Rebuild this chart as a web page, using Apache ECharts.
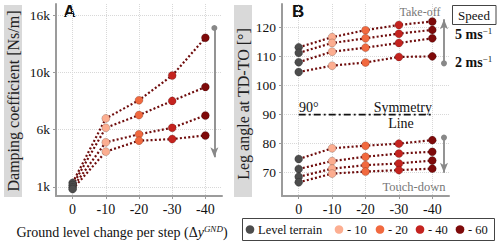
<!DOCTYPE html>
<html><head><meta charset="utf-8">
<script src="https://cdn.jsdelivr.net/npm/echarts@6/dist/echarts.min.js"></script>
<style>html,body{margin:0;padding:0;background:#fff}#c{width:501px;height:244px}</style>
</head><body><div id="c"></div>
<script>
// ---- data ----
const xValues = [0, -10, -20, -30, -40];
const xTickLabels = ['0', '-10', '-20', '-30', '-40'];

// Panel A: damping coefficient [Ns/m], one array per speed
const dampSpeed5 = [1350, 6990, 8580, 10740, 14050];
const dampSpeed4 = [1150, 6170, 7280, 8520, 9740];
const dampSpeed3 = [950, 4900, 5600, 6170, 7250];
const dampSpeed2 = [800, 4080, 5040, 5180, 5500];

// Panel B: leg angle [deg] at take-off
const takeOff5 = [113.1, 116.6, 119.0, 120.8, 122.0];
const takeOff4 = [111.2, 114.6, 116.2, 117.8, 119.1];
const takeOff3 = [108.0, 111.6, 113.0, 114.6, 116.2];
const takeOff2 = [104.6, 106.8, 107.9, 109.8, 110.0];
// Panel B: leg angle [deg] at touch-down
const touchDown5 = [74.7, 78.4, 79.3, 80.0, 81.2];
const touchDown4 = [71.3, 74.0, 75.5, 76.6, 77.2];
const touchDown3 = [68.6, 71.4, 72.6, 73.2, 74.2];
const touchDown2 = [66.7, 69.7, 70.4, 70.9, 71.4];

const yTicksA = [1000, 6000, 11000, 16000];
const yTickLabelsA = ['1k', '6k', '10k', '16k'];
const yTicksB = [70, 80, 90, 100, 110, 120];
const symmetryAngle = 90;
const legendNames = ['Level terrain', '- 10', '- 20', '- 40', '- 60'];

// annotation arrows (data coordinates)
const arrowA = { x: -42.7, from: 14900, to: 3600 };
const arrowTO = { x: -43.5, from: 107.6, to: 122.8 };
const arrowTD = { x: -43.5, from: 82.1, to: 70 };

// ---- styles ----
const pointColors = ['#4d4d4d', '#fcae91', '#f1693f', '#c4231f', '#7e0a0a'];
const LINE = '#6f0c0c';
const SERIF = '"Liberation Serif", "DejaVu Serif", serif';
const AXIS = '#9b9b9b';
const GRIDC = '#d8d8d8';

function pointSeries(values, gi, extra) {
  const s = {
    type: 'line', xAxisIndex: gi, yAxisIndex: gi, silent: true, animation: false,
    symbol: 'circle', symbolSize: 8, z: 3,
    lineStyle: { color: LINE, width: 2.2, type: [2, 2.2] },
    data: values.map((v, i) => ({
      value: [xValues[i], v],
      itemStyle: { color: pointColors[i], borderColor: 'rgba(0,0,0,0.3)', borderWidth: 0.6 }
    }))
  };
  return Object.assign(s, extra || {});
}
function arrowMark(a) {
  return [{ coord: [a.x, a.from] }, { coord: [a.x, a.to] }];
}
const markLineBase = {
  silent: true, animation: false, symbol: ['circle', 'arrow'], symbolSize: [6, 10],
  lineStyle: { color: '#888', width: 1.8, type: 'solid' }, label: { show: false }
};

function xAxisFor(gi) {
  return {
    type: 'value', gridIndex: gi, min: -45, max: 5, inverse: true,
    axisLine: { show: true, onZero: false, lineStyle: { color: AXIS, width: 2 } },
    axisTick: { show: true, length: 3, customValues: xValues, lineStyle: { color: AXIS } },
    axisLabel: { customValues: xValues, formatter: v => xTickLabels[xValues.indexOf(v)],
      margin: 6, fontFamily: SERIF, fontSize: 14, color: '#111' },
    splitLine: { show: true, lineStyle: { color: GRIDC, type: 'dotted', width: 1 } }
  };
}

const series = [
  pointSeries(dampSpeed5, 0, { markLine: Object.assign({ data: [arrowMark(arrowA)] }, markLineBase) }),
  pointSeries(dampSpeed4, 0),
  pointSeries(dampSpeed3, 0),
  pointSeries(dampSpeed2, 0),
  pointSeries(takeOff5, 1, { markLine: Object.assign({ data: [arrowMark(arrowTO), arrowMark(arrowTD)] }, markLineBase) }),
  pointSeries(takeOff4, 1), pointSeries(takeOff3, 1), pointSeries(takeOff2, 1),
  pointSeries(touchDown5, 1), pointSeries(touchDown4, 1), pointSeries(touchDown3, 1), pointSeries(touchDown2, 1),
  {
    type: 'line', xAxisIndex: 1, yAxisIndex: 1, silent: true, animation: false, symbol: 'none', z: 2,
    data: [[xValues[0], symmetryAngle], [xValues[xValues.length - 1], symmetryAngle]],
    lineStyle: { color: '#111', width: 1.8, type: [7, 3, 2, 3] }
  }
];

const txt = (x, y, text, o) => ({
  type: 'text', x: x, y: y, silent: true, rotation: (o && o.rotation) || 0,
  style: Object.assign({
    text: text, fill: '#111', fontFamily: SERIF, fontSize: 14,
    align: 'left', verticalAlign: 'middle', textAlign: 'left', textVerticalAlign: 'middle'
  }, (o && o.style) || {})
});
const center = { align: 'center', textAlign: 'center' };
const right = { align: 'right', textAlign: 'right' };

// legend drawn as graphic: box, then dot + label per entry
const legendDotX = [250, 339, 380, 420, 460];
const legendGraphic = [
  { type: 'rect', shape: { x: 242.5, y: 218.5, width: 252, height: 22 },
    style: { fill: '#fff', stroke: '#444', lineWidth: 1 }, silent: true }
];
legendNames.forEach((n, i) => {
  legendGraphic.push({ type: 'circle', shape: { cx: legendDotX[i], cy: 229.5, r: 4.3 },
    style: { fill: pointColors[i] }, silent: true });
  legendGraphic.push(txt(legendDotX[i] + 8, 229.5, n, { style: { fontSize: 12.5 } }));
});

const graphic = [
  { type: 'rect', shape: { x: 4, y: 5, width: 18, height: 192 }, style: { fill: '#d9d9d9' }, z: -10, silent: true },
  { type: 'rect', shape: { x: 234, y: 5, width: 18, height: 192 }, style: { fill: '#d9d9d9' }, z: -10, silent: true },
  txt(13.5, 101, 'Damping coefficient [Ns/m]', { rotation: Math.PI / 2, style: Object.assign({ fontSize: 16, fill: '#222' }, center) }),
  txt(243.5, 104, 'Leg angle at TD-TO [°]', { rotation: Math.PI / 2, style: Object.assign({ fontSize: 16, fill: '#222' }, center) }),
  txt(63.5, 11, 'A', { style: { fontFamily: '"Liberation Sans", Arial, sans-serif', fontWeight: 'bold', fontSize: 17 } }),
  txt(292, 11, 'B', { style: { fontFamily: '"Liberation Sans", Arial, sans-serif', fontWeight: 'bold', fontSize: 17 } }),
  txt(420, 12, 'Take-off', { style: Object.assign({ fill: '#777', fontSize: 12 }, center) }),
  txt(414, 187, 'Touch-down', { style: Object.assign({ fill: '#777', fontSize: 12.5 }, center) }),
  txt(299, 107, '90°'),
  txt(432, 107, 'Symmetry', { style: right }),
  txt(401, 123, 'Line', { style: center }),
  { type: 'rect', shape: { x: 452.5, y: 5.5, width: 43.5, height: 19 }, style: { fill: '#fff', stroke: '#444', lineWidth: 1 }, silent: true },
  txt(474, 15, 'Speed', { style: Object.assign({ fontSize: 13 }, center) }),
  txt(455, 34, '{b|5 ms}{s|−1}', { style: { rich: {
    b: { fontFamily: SERIF, fontSize: 14, fontWeight: 'bold', fill: '#111', lineHeight: 16 },
    s: { fontFamily: SERIF, fontSize: 9, fill: '#111', lineHeight: 16, verticalAlign: 'top', padding: [0, 0, 6, 0] } } } }),
  txt(455, 62, '{b|2 ms}{s|−1}', { style: { rich: {
    b: { fontFamily: SERIF, fontSize: 14, fontWeight: 'bold', fill: '#111', lineHeight: 16 },
    s: { fontFamily: SERIF, fontSize: 9, fill: '#111', lineHeight: 16, verticalAlign: 'top', padding: [0, 0, 6, 0] } } } }),
  txt(122, 232, 'Ground level change per step (Δ{i|y}{s|GND})', { style: Object.assign({ fontSize: 14, rich: {
    i: { fontFamily: SERIF, fontSize: 14, fontStyle: 'italic', fill: '#111' },
    s: { fontFamily: SERIF, fontSize: 9, fontStyle: 'italic', fill: '#111', padding: [0, 0, 6, 0] } } }, center) })
].concat(legendGraphic);

const chart = echarts.init(document.getElementById('c'), null, { renderer: 'svg', width: 501, height: 244 });
chart.setOption({
  animation: false,
  backgroundColor: '#fff',
  grid: [
    { left: 56, top: 4, width: 166, height: 192, outerBoundsMode: 'none', containLabel: false },
    { left: 282, top: 4, width: 167, height: 192, outerBoundsMode: 'none', containLabel: false }
  ],
  xAxis: [xAxisFor(0), xAxisFor(1)],
  yAxis: [
    {
      type: 'value', gridIndex: 0, min: 200, max: 17000,
      axisLine: { show: true, onZero: false, lineStyle: { color: AXIS, width: 2 } },
      axisTick: { show: true, length: 3, customValues: yTicksA, lineStyle: { color: AXIS } },
      axisLabel: { customValues: yTicksA, formatter: v => yTickLabelsA[yTicksA.indexOf(v)],
        margin: 6, fontFamily: SERIF, fontSize: 13.5, color: '#111' },
      splitLine: { show: true, lineStyle: { color: GRIDC, type: 'dotted', width: 1 } }
    },
    {
      type: 'value', gridIndex: 1, min: 62, max: 128,
      axisLine: { show: true, onZero: false, lineStyle: { color: AXIS, width: 2 } },
      axisTick: { show: true, length: 3, customValues: yTicksB, lineStyle: { color: AXIS } },
      axisLabel: { customValues: yTicksB, margin: 6, fontFamily: SERIF, fontSize: 13.5, color: '#111' },
      splitLine: { show: true, lineStyle: { color: GRIDC, type: 'dotted', width: 1 } }
    }
  ],
  series: series,
  graphic: graphic
});
</script></body></html>
